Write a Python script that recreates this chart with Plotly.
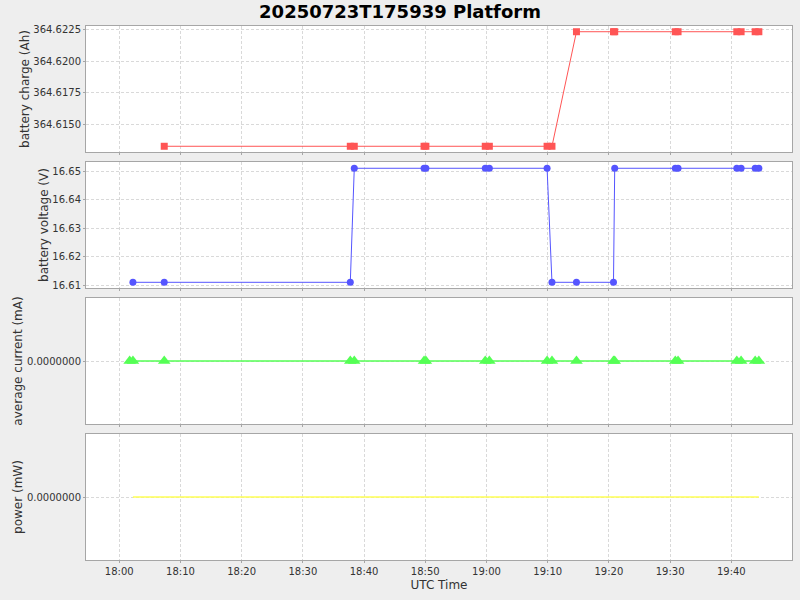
import plotly.graph_objects as go
from plotly.subplots import make_subplots

# sample times (UTC, 2025-07-23)
times = ["18:01:42", "18:02:14", "18:07:21", "18:37:45", "18:38:24",
         "18:49:48", "18:50:06", "18:59:48", "19:00:28", "19:09:54",
         "19:10:42", "19:14:42", "19:20:45", "19:20:57", "19:30:51",
         "19:31:18", "19:40:54", "19:41:36", "19:43:54", "19:44:30"]
times = ["2025-07-23 " + t for t in times]

# battery charge (Ah)
charge = [None, None, 364.6133, 364.6133, 364.6133, 364.6133, 364.6133,
          364.6133, 364.6133, 364.6133, 364.6133, 364.6223, 364.6223,
          364.6223, 364.6223, 364.6223, 364.6223, 364.6223, 364.6223, 364.6223]

# battery voltage (V)
voltage = [None, 16.611, 16.611, 16.611, 16.651, 16.651, 16.651, 16.651,
           16.651, 16.651, 16.611, 16.611, 16.611, 16.651, 16.651, 16.651,
           16.651, 16.651, 16.651, 16.651]

# average current (mA)
current = [0.0] * 20

# power (mW)
power = [None] + [0.0] * 19

charge_ticks = [364.6150, 364.6175, 364.6200, 364.6225]
voltage_ticks = [16.61, 16.62, 16.63, 16.64, 16.65]

FONT = "DejaVu Sans"
GRID = "#d9d9d9"
BORDER = "#a6a6a6"

fig = make_subplots(rows=4, cols=1, shared_xaxes=True, vertical_spacing=10 / 534)

fig.add_trace(go.Scatter(x=times, y=charge, mode="lines+markers", connectgaps=True,
                         line=dict(color="#ff5555", width=1),
                         marker=dict(symbol="square", size=7, color="#ff5555")),
              row=1, col=1)
fig.add_trace(go.Scatter(x=times, y=voltage, mode="lines+markers", connectgaps=True,
                         line=dict(color="#5555ff", width=1),
                         marker=dict(symbol="circle", size=7, color="#5555ff")),
              row=2, col=1)
fig.add_trace(go.Scatter(x=times, y=current, mode="lines+markers",
                         line=dict(color="#55ff55", width=1.5),
                         marker=dict(symbol="triangle-up", size=11, color="#55ff55")),
              row=3, col=1)
fig.add_trace(go.Scatter(x=times, y=power, mode="lines", connectgaps=True,
                         line=dict(color="#ffff55", width=1.5)),
              row=4, col=1)

fig.update_xaxes(range=["2025-07-23 17:54:34", "2025-07-23 19:49:55"],
                 dtick=600000, tickformat="%H:%M", automargin=False,
                 showgrid=True, gridcolor=GRID, griddash="3px,2px", gridwidth=1,
                 showline=True, linecolor=BORDER, linewidth=1, mirror=True,
                 ticks="outside", ticklen=2, tickcolor=BORDER,
                 tickfont=dict(family=FONT, size=10, color="#333333"))
fig.update_xaxes(title=dict(text="UTC Time", font=dict(family=FONT, size=12, color="#333333"),
                            standoff=4), row=4, col=1)

fig.update_yaxes(showgrid=True, gridcolor=GRID, griddash="3px,2px", gridwidth=1,
                 zeroline=False, showline=True, linecolor=BORDER, linewidth=1, mirror=True,
                 ticks="outside", ticklen=2, tickcolor=BORDER, automargin=False,
                 tickfont=dict(family=FONT, size=10, color="#333333"))

axis_title = dict(family=FONT, size=12, color="#333333")
fig.update_yaxes(title=dict(text="battery charge (Ah)", font=axis_title, standoff=1),
                 range=[364.61285, 364.62275], tickvals=charge_ticks, tickformat=".4f",
                 row=1, col=1)
fig.update_yaxes(title=dict(text="battery voltage (V)", font=axis_title, standoff=1),
                 range=[16.609, 16.6532], tickvals=voltage_ticks, tickformat=".2f",
                 row=2, col=1)
fig.update_yaxes(title=dict(text="average current (mA)", font=axis_title, standoff=1),
                 range=[-1, 1], tickvals=[0], tickformat=".7f", row=3, col=1)
fig.update_yaxes(title=dict(text="power (mW)", font=axis_title, standoff=1),
                 range=[-1, 1], tickvals=[0], tickformat=".7f", row=4, col=1)

fig.update_layout(
    width=800, height=600,
    margin=dict(l=86, r=8, t=26, b=40),
    paper_bgcolor="#eeeeee", plot_bgcolor="#ffffff",
    showlegend=False,
    title=dict(text="<b>20250723T175939 Platform</b>", x=0.5, xanchor="center",
               y=1 - 12 / 600, yanchor="middle", yref="container", automargin=False,
               font=dict(family=FONT, size=18, color="#000000")),
)

# drop the browser's default 8px body margin so the figure fills the window
fig.write_html("out.html", config={"displayModeBar": False},
               post_script="document.body.style.margin = '0';")
